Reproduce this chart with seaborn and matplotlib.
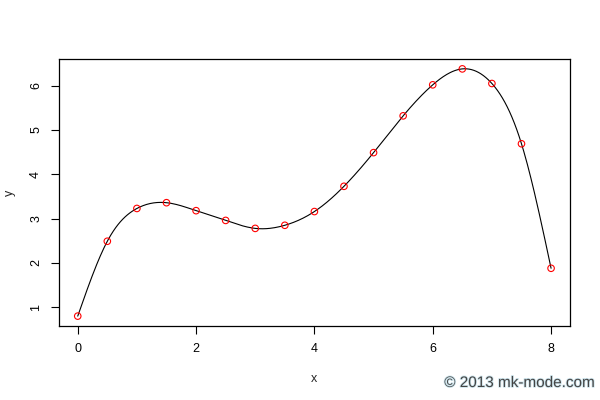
import numpy as np
import matplotlib.pyplot as plt
import matplotlib.patheffects as pe
import seaborn as sns

# data points
x_vals = [0, 0.5, 1, 1.5, 2, 2.5, 3, 3.5, 4, 4.5, 5, 5.5, 6, 6.5, 7, 7.5, 8]
y_vals = [0.80, 2.49, 3.23, 3.36, 3.18, 2.96, 2.78, 2.85, 3.16, 3.73,
          4.49, 5.32, 6.02, 6.38, 6.05, 4.69, 1.88]
x_ticks = [0, 2, 4, 6, 8]
y_ticks = [1, 2, 3, 4, 5, 6]


def natural_spline(x, y, n=400):
    # smooth curve through the points (natural cubic spline)
    x = np.asarray(x, float)
    y = np.asarray(y, float)
    m = len(x)
    h = np.diff(x)
    A = np.zeros((m, m))
    b = np.zeros(m)
    A[0, 0] = A[-1, -1] = 1
    for i in range(1, m - 1):
        A[i, i - 1] = h[i - 1]
        A[i, i] = 2 * (h[i - 1] + h[i])
        A[i, i + 1] = h[i]
        b[i] = 6 * ((y[i + 1] - y[i]) / h[i] - (y[i] - y[i - 1]) / h[i - 1])
    M = np.linalg.solve(A, b)
    xs = np.linspace(x[0], x[-1], n)
    idx = np.clip(np.searchsorted(x, xs) - 1, 0, m - 2)
    x0, x1 = x[idx], x[idx + 1]
    hh = x1 - x0
    ys = (M[idx] * (x1 - xs) ** 3 + M[idx + 1] * (xs - x0) ** 3) / (6 * hh) \
        + (y[idx] / hh - M[idx] * hh / 6) * (x1 - xs) \
        + (y[idx + 1] / hh - M[idx + 1] * hh / 6) * (xs - x0)
    return xs, ys


sns.set_theme(style="ticks")
plt.rcParams['font.family'] = ['Liberation Sans', 'DejaVu Sans']

fig = plt.figure(figsize=(6, 4), dpi=100)
ax = fig.add_axes([0.098, 0.185, 0.852, 0.6675])

xs, ys = natural_spline(x_vals, y_vals)
sns.lineplot(x=xs, y=ys, ax=ax, color='black', linewidth=0.8, sort=False)
sns.scatterplot(x=x_vals, y=y_vals, ax=ax, marker='o', s=22,
                facecolor='none', edgecolor='red', linewidth=0.8, zorder=3)

ax.set_xlim(-0.32, 8.32)
ax.set_ylim(0.577, 6.603)
ax.set_xticks(x_ticks)
ax.set_yticks(y_ticks)
ax.set_xticklabels([str(t) for t in x_ticks])
ax.set_yticklabels([str(t) for t in y_ticks], rotation=90, va='center')
ax.tick_params(direction='out', length=6, width=0.8, colors='black',
               labelsize=9, pad=6)
for s in ax.spines.values():
    s.set_visible(True)
    s.set_color('black')
    s.set_linewidth(0.9)

ax.set_xlabel('x', fontsize=9, labelpad=13)
ax.set_ylabel('y', fontsize=9, labelpad=10)

fig.text(0.99, 0.025, '\u00a9 2013 mk-mode.com', ha='right', va='bottom',
         fontsize=11, color='#444444',
         path_effects=[pe.withStroke(linewidth=1.2, foreground='#cfe6ee')])

fig.savefig('out.png', dpi=100)
